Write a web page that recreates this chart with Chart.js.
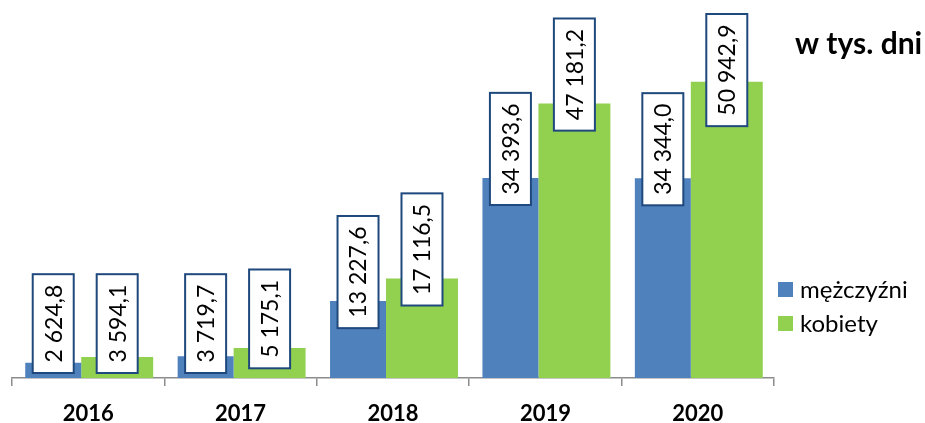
<!DOCTYPE html>
<html>
<head>
<meta charset="utf-8">
<script src="https://cdn.jsdelivr.net/npm/chart.js@4/dist/chart.umd.min.js"></script>
<style>
  html, body { margin: 0; padding: 0; background: #fff; }
  #wrap { width: 925px; height: 423px; }
</style>
</head>
<body>
<div id="wrap"><canvas id="daysChart"></canvas></div>
<script>
// values in thousands of days
var years = ["2016", "2017", "2018", "2019", "2020"];
var men = [2624.8, 3719.7, 13227.6, 34393.6, 34344.0];
var women = [3594.1, 5175.1, 17116.5, 47181.2, 50942.9];
var seriesNames = ["mężczyźni", "kobiety"];
var unitLabel = "w tys. dni";

var blue = '#4f81bd';
var green = '#92d050';

// polish number format: "34 393,6"
function fmt(v) {
    var parts = v.toFixed(1).split('.');
    var intPart = parts[0].replace(/\B(?=(\d{3})+(?!\d))/g, ' ');
    return intPart + ',' + parts[1];
}

// boxed, rotated value labels + legend + unit text
var extras = {
    id: 'extras',
    afterDatasetsDraw: function (chart) {
        var ctx = chart.ctx;
        var base = chart.scales.y.getPixelForValue(0);
        ctx.save();
        ctx.font = '23px Lato';
        chart.data.datasets.forEach(function (ds, i) {
            chart.getDatasetMeta(i).data.forEach(function (bar, j) {
                var txt = fmt(ds.data[j]);
                var h = ctx.measureText(txt).width + 21;
                var w = 41;
                var cy = bar.y - 29;
                if (cy - h / 2 < 14) cy = 14 + h / 2;
                if (cy + h / 2 > base - 5) cy = base - 5 - h / 2;
                ctx.fillStyle = '#fff';
                ctx.fillRect(bar.x - w / 2, cy - h / 2, w, h);
                ctx.strokeStyle = '#1f497d';
                ctx.lineWidth = 2;
                ctx.strokeRect(bar.x - w / 2, cy - h / 2, w, h);
                ctx.save();
                ctx.translate(bar.x, cy);
                ctx.rotate(-Math.PI / 2);
                ctx.textAlign = 'center';
                ctx.textBaseline = 'middle';
                ctx.fillStyle = '#000';
                ctx.fillText(txt, 0, 1);
                ctx.restore();
            });
        });

        // legend
        var colors = [blue, green];
        ctx.font = '24px Lato';
        ctx.textAlign = 'left';
        ctx.textBaseline = 'middle';
        seriesNames.forEach(function (name, i) {
            var y = 290 + i * 34;
            ctx.fillStyle = colors[i];
            ctx.fillRect(778, y - 8, 15, 15);
            ctx.fillStyle = '#000';
            ctx.fillText(name, 800, y);
        });

        // unit
        ctx.font = 'bold 30px Lato';
        ctx.textBaseline = 'alphabetic';
        ctx.fillText(unitLabel, 795, 54);
        ctx.restore();
    }
};

var ctxB = document.getElementById('daysChart').getContext('2d');
var daysChart = new Chart(ctxB, {
    type: 'bar',
    data: {
        labels: years,
        datasets: [
            {
                label: seriesNames[0],
                data: men,
                backgroundColor: blue,
                categoryPercentage: 0.918,
                barPercentage: 0.8
            },
            {
                label: seriesNames[1],
                data: women,
                backgroundColor: green,
                categoryPercentage: 0.761,
                barPercentage: 1.241
            }
        ]
    },
    options: {
        responsive: true,
        maintainAspectRatio: false,
        animation: false,
        layout: { padding: { left: 12, right: 151, top: 29, bottom: 0 } },
        plugins: {
            legend: { display: false },
            tooltip: { enabled: false }
        },
        scales: {
            x: {
                afterFit: function (scale) { scale.height = 45; },
                grid: {
                    offset: true,
                    drawOnChartArea: false,
                    tickLength: 8,
                    color: '#8c8c8c',
                    lineWidth: 1.5
                },
                border: { color: '#8c8c8c', width: 1.5 },
                ticks: {
                    color: '#000',
                    padding: 15,
                    font: { family: 'Lato', size: 22, weight: 'bold' }
                }
            },
            y: {
                display: false,
                min: 0,
                max: 60000
            }
        }
    },
    plugins: [extras]
});
</script>
</body>
</html>
